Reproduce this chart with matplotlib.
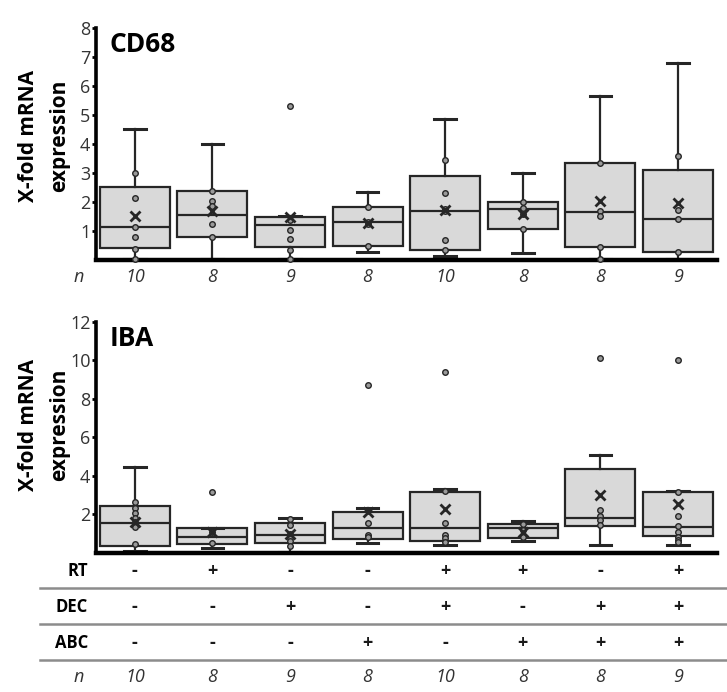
#!/usr/bin/env python3
"""Box plots of CD68 / IBA mRNA expression per treatment group."""

import sys

import matplotlib

matplotlib.use("Agg")
import matplotlib.pyplot as plt
from matplotlib.transforms import blended_transform_factory

plt.rcParams["font.family"] = ["Open Sans", "DejaVu Sans"]

# treatment table
RT = ["-", "+", "-", "-", "+", "+", "-", "+"]
DEC = ["-", "-", "+", "-", "+", "-", "+", "+"]
ABC = ["-", "-", "-", "+", "-", "+", "+", "+"]
N = [10, 8, 9, 8, 10, 8, 8, 9]

# CD68
cd68_q1 = [0.41, 0.80, 0.44, 0.48, 0.34, 1.07, 0.45, 0.27]
cd68_med = [1.14, 1.55, 1.20, 1.31, 1.69, 1.75, 1.66, 1.41]
cd68_q3 = [2.52, 2.38, 1.48, 1.83, 2.90, 2.00, 3.35, 3.10]
cd68_lo = [0.05, 0.02, 0.05, 0.28, 0.14, 0.25, 0.05, 0.03]
cd68_hi = [4.50, 4.00, 1.50, 2.35, 4.86, 3.00, 5.65, 6.80]
cd68_mean = [1.52, 1.70, 1.48, 1.28, 1.72, 1.59, 2.03, 1.95]
cd68_points = [
    [3.0, 2.15, 1.14, 0.8, 0.38, 0.05],
    [2.38, 2.03, 1.85, 1.25, 0.8],
    [1.38, 1.03, 0.72, 0.34, 0.05],
    [1.83, 1.31, 1.25, 0.48],
    [3.45, 2.3, 1.75, 1.69, 0.69, 0.33],
    [2.0, 1.8, 1.6, 1.07],
    [3.35, 1.7, 1.52, 0.45, 0.05],
    [3.58, 1.72, 1.41, 0.27],
]
cd68_outliers = [[], [], [5.3], [], [], [], [], []]

# IBA
iba_q1 = [0.36, 0.47, 0.52, 0.72, 0.62, 0.78, 1.40, 0.88]
iba_med = [1.56, 0.85, 0.93, 1.30, 1.30, 1.30, 1.82, 1.35]
iba_q3 = [2.44, 1.30, 1.55, 2.12, 3.17, 1.50, 4.36, 3.17]
iba_lo = [0.12, 0.27, 0.07, 0.52, 0.42, 0.62, 0.42, 0.42]
iba_hi = [4.47, 1.30, 1.80, 2.33, 3.30, 1.66, 5.09, 3.20]
iba_mean = [1.60, 1.08, 1.00, 2.12, 2.28, 1.10, 3.00, 2.55]
iba_points = [
    [2.65, 2.33, 2.1, 1.8, 1.6, 1.45, 1.35, 0.47],
    [1.1, 0.5],
    [1.75, 1.45, 1.0, 0.8, 0.6, 0.35],
    [1.55, 0.93, 0.82],
    [3.2, 1.57, 0.93, 0.78, 0.55],
    [1.5, 1.2, 0.85],
    [2.23, 1.9, 1.7, 1.45],
    [3.15, 1.92, 1.4, 1.1, 0.85, 0.7, 0.55],
]
iba_outliers = [[], [3.15], [], [8.75], [9.4], [], [10.15], [10.05]]

DARK = "#262626"
BOX = "#d9d9d9"
TXT = "#333333"


def draw_panel(ax, title, q1, med, q3, lo, hi, mean, points, outliers,
               ymax, step, label_y):
    stats = [
        dict(q1=a, med=b, q3=c, whislo=d, whishi=e, fliers=[])
        for a, b, c, d, e in zip(q1, med, q3, lo, hi)
    ]
    pos = list(range(len(stats)))
    ax.bxp(
        stats, positions=pos, widths=0.9, patch_artist=True, showfliers=False,
        capwidths=0.28,
        boxprops=dict(facecolor=BOX, edgecolor=DARK, linewidth=1.6),
        medianprops=dict(color=DARK, linewidth=1.6),
        whiskerprops=dict(color=DARK, linewidth=1.6),
        capprops=dict(color=DARK, linewidth=2.2),
    )
    for i in pos:
        pts = points[i] + outliers[i]
        ax.plot([i] * len(pts), pts, "o", ms=4, mfc="#9a9a9a", mec=DARK,
                mew=1.0, ls="none", zorder=4, clip_on=False)
        ax.plot(i, mean[i], "x", ms=7.5, mew=2, color=DARK, zorder=5)

    ax.set_xlim(-0.5, 7.5)
    ax.set_ylim(0, ymax)
    ax.set_yticks(range(step, ymax + 1, step))
    ax.tick_params(axis="y", labelsize=13, labelcolor=TXT, length=3, width=2,
                   direction="out", pad=1)
    ax.set_xticks([])
    for s in ("top", "right"):
        ax.spines[s].set_visible(False)
    ax.spines["left"].set_linewidth(2.6)
    ax.spines["bottom"].set_linewidth(3.2)
    ax.set_ylabel("X-fold mRNA\nexpression", fontsize=15, fontweight="bold",
                  linespacing=1.6)
    ax.yaxis.set_label_coords(-0.042, label_y)
    ax.text(0.022, 0.985, title, transform=ax.transAxes, fontsize=19,
            fontweight="bold", va="top", ha="left")


def main() -> int:
    fig = plt.figure(figsize=(7.27, 6.92), dpi=100)
    ax1 = fig.add_axes([0.132, 0.6243, 0.854, 0.3353])
    ax2 = fig.add_axes([0.132, 0.2009, 0.854, 0.3338])

    draw_panel(ax1, "CD68", cd68_q1, cd68_med, cd68_q3, cd68_lo, cd68_hi,
               cd68_mean, cd68_points, cd68_outliers, 8, 1, 0.534)
    draw_panel(ax2, "IBA", iba_q1, iba_med, iba_q3, iba_lo, iba_hi,
               iba_mean, iba_points, iba_outliers, 12, 2, 0.554)

    # n row under the CD68 panel
    tr = blended_transform_factory(ax1.transData, ax1.transAxes)
    ax1.text(-0.72, -0.073, "n", transform=tr, fontsize=13, style="italic",
             color=TXT, ha="center", va="center")
    for i, n in enumerate(N):
        ax1.text(i, -0.073, str(n), transform=tr, fontsize=13, style="italic",
                 color=TXT, ha="center", va="center")

    # treatment table under the IBA panel (y in pixel rows)
    axt = fig.add_axes([0.132, 0.0, 0.854, 1 - 560 / 692])
    axt.set_xlim(-0.5, 7.5)
    axt.set_ylim(692, 560)
    axt.axis("off")
    rows = [("RT", RT, 571), ("DEC", DEC, 607), ("ABC", ABC, 643)]
    for label, vals, y in rows:
        axt.text(-0.6, y, label, fontsize=12, fontweight="bold", ha="right",
                 va="center")
        for i, v in enumerate(vals):
            axt.text(i, y, v, fontsize=13, fontweight="bold", ha="center",
                     va="center", color="#1a1a1a")
        axt.plot([-1.22, 7.63], [y + 17, y + 17], color="#8c8c8c", lw=1.8,
                 clip_on=False)
    axt.text(-0.72, 677, "n", fontsize=13, style="italic", color=TXT,
             ha="center", va="center")
    for i, n in enumerate(N):
        axt.text(i, 677, str(n), fontsize=13, style="italic", color=TXT,
                 ha="center", va="center")

    fig.savefig("out.png", dpi=100)
    plt.close(fig)
    return 0


if __name__ == "__main__":
    sys.exit(main())
